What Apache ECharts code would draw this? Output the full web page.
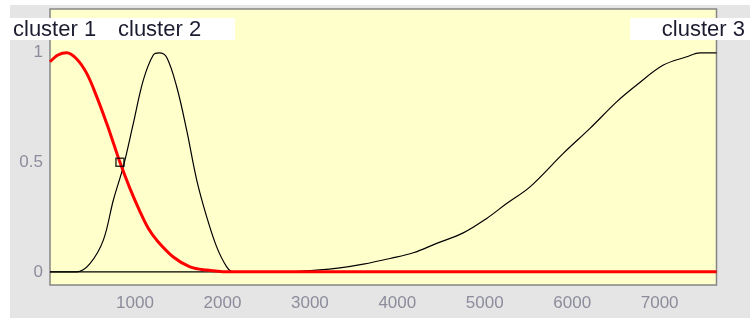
<!DOCTYPE html>
<html>
<head>
<meta charset="utf-8">
<script src="https://cdn.jsdelivr.net/npm/echarts@6/dist/echarts.min.js"></script>
<style>html,body{margin:0;padding:0;background:#fff}#c{width:750px;height:318px}</style>
</head>
<body>
<div id="c"></div>
<script>
var labels = ['cluster 1', 'cluster 2', 'cluster 3'];
var c1x = [28, 120, 219, 333, 448, 562, 676, 760, 828, 943, 1057, 1150, 1248, 1438, 1629, 1820, 2049, 7650];
var c1y = [0.959, 0.99, 1.0, 0.972, 0.906, 0.80, 0.678, 0.58, 0.5, 0.38, 0.275, 0.2, 0.145, 0.068, 0.023, 0.008, 0, 0];
var c2x = [28, 333, 485, 638, 752, 866, 981, 1095, 1209, 1278, 1362, 1477, 1591, 1706, 1820, 1934, 2049, 2124, 7650];
var c2y = [0, 0, 0.038, 0.145, 0.327, 0.48, 0.678, 0.875, 0.99, 1.0, 0.98, 0.845, 0.647, 0.419, 0.251, 0.114, 0.023, 0, 0];
var c3x = [28, 2700, 3078, 3344, 3611, 3916, 4183, 4450, 4754, 5022, 5250, 5517, 5898, 6203, 6508, 6737, 7042, 7310, 7462, 7650];
var c3y = [0, 0, 0.008, 0.018, 0.035, 0.061, 0.087, 0.13, 0.178, 0.244, 0.312, 0.388, 0.541, 0.655, 0.776, 0.853, 0.944, 0.982, 1.0, 1.0];
var markerX = [828];
var markerY = [0.5];
var xTicks = [1000, 2000, 3000, 4000, 5000, 6000, 7000];
var yTicks = [0, 0.5, 1];
var xMin = 28, xMax = 7650, yMin = -0.06, yMax = 1.2;

function pairs(xs, ys) { return xs.map(function (x, i) { return [x, ys[i]]; }); }

var chart = echarts.init(document.getElementById('c'), null, {renderer: 'canvas'});
var tickColor = '#8a8a8a';
var labColor = '#8c8c9c';
function xAxis(pos, showLabel) {
  return {
    type: 'value', position: pos, min: xMin, max: xMax,
    axisLine: {show: false},
    axisTick: {show: true, inside: true, length: 5, lineStyle: {color: tickColor, width: 1}, customValues: xTicks},
    axisLabel: {show: showLabel, customValues: xTicks, color: labColor, fontSize: 17, fontFamily: 'Arial', margin: 10,
      formatter: function (v) { return String(v); }},
    splitLine: {show: false}
  };
}
function yAxis(pos, showLabel) {
  return {
    type: 'value', position: pos, min: yMin, max: yMax,
    axisLine: {show: false},
    axisTick: {show: true, inside: true, length: 5, lineStyle: {color: tickColor, width: 1}, customValues: yTicks},
    axisLabel: {show: showLabel, customValues: yTicks, color: labColor, fontSize: 17, fontFamily: 'Arial', margin: 7,
      formatter: function (v) { return String(v); }},
    splitLine: {show: false}
  };
}
chart.setOption({
  animation: false,
  backgroundColor: '#ffffff',
  grid: {left: 50, right: 33.5, top: 9, bottom: 33, show: true, backgroundColor: '#ffffcc', borderColor: '#858585', borderWidth: 1.5, z: 1},
  graphic: [
    {type: 'rect', shape: {x: 10, y: 5, width: 740, height: 313}, style: {fill: '#e5e5e5'}, z: -10, silent: true},
    {type: 'rect', shape: {x: 10, y: 18, width: 225, height: 22}, style: {fill: '#ffffff'}, z: 100},
    {type: 'rect', shape: {x: 630, y: 18, width: 120, height: 22}, style: {fill: '#ffffff'}, z: 100},
    {type: 'text', x: 13, y: 30, style: {text: labels[0], font: '22px Arial', fill: '#1c1c30', verticalAlign: 'middle'}, z: 101},
    {type: 'text', x: 118, y: 30, style: {text: labels[1], font: '22px Arial', fill: '#1c1c30', verticalAlign: 'middle'}, z: 101},
    {type: 'text', x: 745, y: 30, style: {text: labels[2], font: '22px Arial', fill: '#1c1c30', verticalAlign: 'middle', align: 'right'}, z: 101}
  ],
  xAxis: [xAxis('bottom', true), xAxis('top', false)],
  yAxis: [yAxis('left', true), yAxis('right', false)],
  series: [
    {type: 'line', data: pairs(c2x, c2y), showSymbol: false, smooth: 0.35, lineStyle: {color: '#000', width: 1.2}, z: 3},
    {type: 'line', data: pairs(c3x, c3y), showSymbol: false, smooth: 0.35, lineStyle: {color: '#000', width: 1.2}, z: 3},
    {type: 'line', data: pairs(c1x, c1y), showSymbol: false, smooth: 0.35, lineStyle: {color: '#ff0000', width: 3}, z: 4},
    {type: 'scatter', data: pairs(markerX, markerY), symbol: 'rect', symbolSize: 8, itemStyle: {color: 'rgba(0,0,0,0)', borderColor: '#000', borderWidth: 1.5}, z: 5}
  ]
});
</script>
</body>
</html>
